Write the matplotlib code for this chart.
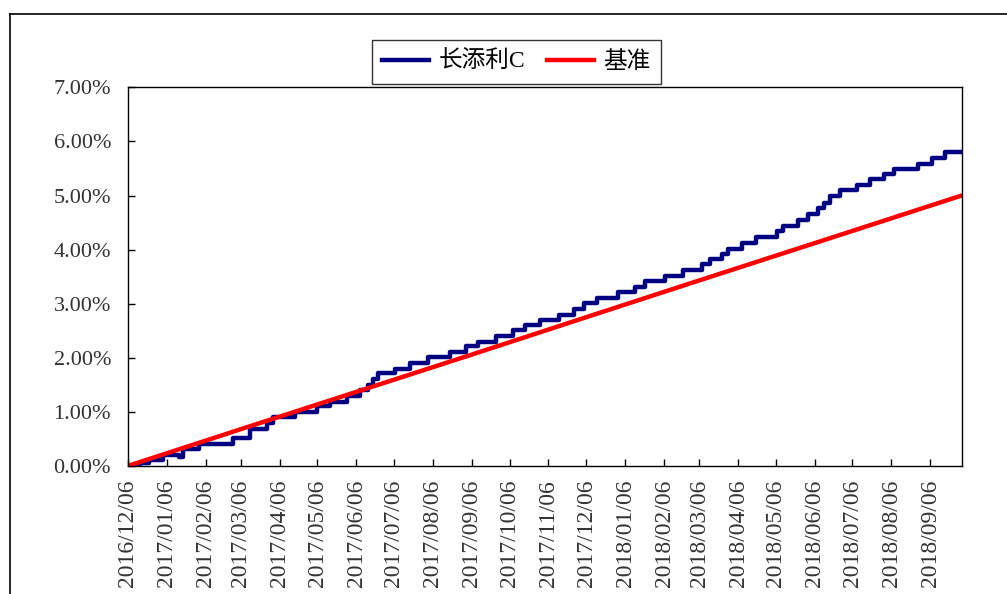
import numpy as np
import matplotlib
matplotlib.use('Agg')
import matplotlib.pyplot as plt
import matplotlib.dates as mdates
from matplotlib.lines import Line2D
from matplotlib.ticker import FuncFormatter

plt.rcParams['font.family'] = ['Liberation Serif', 'Noto Sans CJK SC']

# 长添利C 累计收益 (%), 阶梯变化的日期和数值
fund_dates = ['2016-12-06', '2016-12-16', '2016-12-23', '2017-01-03', '2017-01-16',
              '2017-01-19', '2017-02-01', '2017-02-28', '2017-03-13', '2017-03-27',
              '2017-04-01', '2017-04-18', '2017-05-06', '2017-05-16', '2017-05-30',
              '2017-06-09', '2017-06-15', '2017-06-19', '2017-06-23', '2017-07-07',
              '2017-07-19',
              '2017-08-02', '2017-08-20', '2017-09-01', '2017-09-11', '2017-09-25',
              '2017-10-09', '2017-10-18', '2017-10-30', '2017-11-14', '2017-11-26',
              '2017-12-04', '2017-12-15', '2017-12-31', '2018-01-14', '2018-01-22',
              '2018-02-07', '2018-02-21', '2018-03-08', '2018-03-15', '2018-03-24',
              '2018-03-29', '2018-04-09', '2018-04-20', '2018-05-07', '2018-05-12',
              '2018-05-24', '2018-06-01', '2018-06-09', '2018-06-13', '2018-06-18',
              '2018-06-26', '2018-07-10', '2018-07-20', '2018-07-31', '2018-08-08',
              '2018-08-27', '2018-09-07', '2018-09-18', '2018-10-01']
fund_vals = [0.00, 0.05, 0.11, 0.20, 0.17,
             0.31, 0.41, 0.51, 0.69, 0.80,
             0.90, 1.00, 1.10, 1.19, 1.30,
             1.41, 1.50, 1.61, 1.72, 1.80,
             1.90,
             2.01, 2.11, 2.21, 2.30, 2.40,
             2.51, 2.60, 2.70, 2.80, 2.90,
             3.01, 3.11, 3.21, 3.31, 3.42,
             3.52, 3.62, 3.74, 3.83, 3.92,
             4.02, 4.13, 4.24, 4.34, 4.44,
             4.55, 4.65, 4.76, 4.87, 5.00,
             5.10, 5.20, 5.30, 5.40, 5.49,
             5.59, 5.70, 5.80, 5.80]

# 基准 (%)
bench_dates = ['2016-12-06', '2017-03-06', '2017-06-06', '2017-09-06', '2017-12-06',
               '2018-03-06', '2018-06-06', '2018-10-01']
bench_vals = [0.00, 0.68, 1.37, 2.06, 2.75, 3.43, 4.12, 5.00]

series_names = ['长添利C', '基准']

fund_x = np.array(fund_dates, dtype='datetime64[D]')
bench_x = np.array(bench_dates, dtype='datetime64[D]')

fig = plt.figure(figsize=(10.07, 5.94), dpi=100)
ax = fig.add_axes([0.1268, 0.2155, 0.8282, 0.6375])

ax.plot(fund_x, fund_vals, color='#000080', lw=3.2, drawstyle='steps-post', label=series_names[0])
ax.plot(bench_x, bench_vals, color='#FF0000', lw=3.2, label=series_names[1])

ax.set_xlim(np.datetime64('2016-12-06'), np.datetime64('2018-10-01'))
ax.set_ylim(0, 7)
ax.set_yticks(np.arange(0, 8, 1))
ax.yaxis.set_major_formatter(FuncFormatter(lambda v, _: f'{v:.2f}%'))

ax.xaxis.set_major_locator(mdates.MonthLocator(bymonthday=6))
ax.xaxis.set_major_formatter(mdates.DateFormatter('%Y/%m/%d'))

ax.tick_params(axis='both', direction='in', length=5, width=1, colors='black',
               labelcolor='#333333', labelsize=16)
ax.tick_params(axis='y', pad=12)
ax.tick_params(axis='x', pad=10, labelrotation=90, labelsize=17)

for s in ax.spines.values():
    s.set_color('black')
    s.set_linewidth(1)

leg = ax.legend(loc='center', bbox_to_anchor=(516.5 / 1007, 1 - 62 / 594),
                bbox_transform=fig.transFigure, ncol=2, fontsize=17,
                frameon=True, fancybox=False, edgecolor='black',
                handlelength=2.0, handletextpad=0.4, columnspacing=0.9,
                borderpad=0.45)
leg.get_frame().set_linewidth(1)

# 外框
fig.add_artist(Line2D([9.5 / 1007, 1], [1 - 13.7 / 594, 1 - 13.7 / 594],
                      transform=fig.transFigure, color='black', lw=1.2))
fig.add_artist(Line2D([9.5 / 1007, 9.5 / 1007], [0, 1 - 13.7 / 594],
                      transform=fig.transFigure, color='black', lw=1.2))

fig.savefig('out.png', dpi=100)
